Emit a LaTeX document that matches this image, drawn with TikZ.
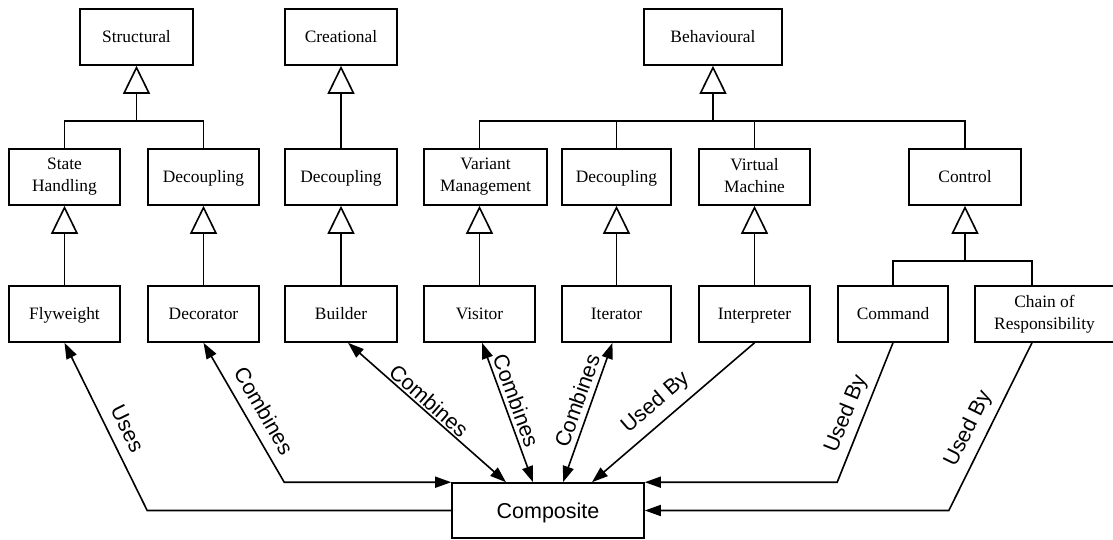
\documentclass[tikz,border=0pt]{standalone}
\usepackage{fontspec}
\setmainfont{Liberation Serif}
\setsansfont{Liberation Sans}
\usetikzlibrary{arrows.meta}
\begin{document}
\begin{tikzpicture}[x=1pt,y=1pt,
  box/.style={draw, line width=1.6pt, inner sep=0pt, minimum height=56pt,
    align=center, font=\fontsize{17.4}{22}\selectfont},
  one/.style={box, text height=11.5pt, text depth=0pt},
  link/.style={line width=1.6pt},
  isa/.style={link, -{Triangle[open, length=28pt, width=27pt]}},
  uni/.style={link, {Triangle[length=16pt, width=11pt]}-},
  bi/.style={link, {Triangle[length=16pt, width=11pt]}-{Triangle[length=16pt, width=11pt]}},
  lbl/.style={sloped, inner sep=0pt, text height=0.75em, text depth=0.25em,
    font=\sffamily\fontsize{21.5}{24}\selectfont}
]
\fill[white] (0,0) rectangle (1113,539);
\useasboundingbox (0,0) rectangle (1113,539);

% categories
\node[one, minimum width=113pt] (Structural) at (136.5,502) {Structural};
\node[one, minimum width=112pt] (Creational) at (341,502) {Creational};
\node[one, minimum width=138pt] (Behavioural) at (713,502) {Behavioural};

% sub-categories
\node[box, minimum width=111pt] (StateH) at (64.5,362) {State\vphantom{g}\\Handling};
\node[one, minimum width=111pt] (DecA) at (203.5,362) {Decoupling};
\node[one, minimum width=112pt] (DecB) at (341,362) {Decoupling};
\node[box, minimum width=123pt] (VarMan) at (485.5,362) {Variant\vphantom{g}\\Management};
\node[one, minimum width=109pt] (DecC) at (616.5,362) {Decoupling};
\node[box, minimum width=111pt] (VirtM) at (754.5,362) {Virtual\vphantom{g}\\Machine\vphantom{g}};
\node[one, minimum width=112pt] (Control) at (965,362) {Control};

% patterns
\node[one, minimum width=111pt] (Flyweight) at (64.5,225) {Flyweight};
\node[one, minimum width=111pt] (Decorator) at (203.5,225) {Decorator};
\node[one, minimum width=112pt] (Builder) at (341,225) {Builder};
\node[one, minimum width=111pt] (Visitor) at (479.5,225) {Visitor};
\node[one, minimum width=109pt] (Iterator) at (616.5,225) {Iterator};
\node[one, minimum width=111pt] (Interpreter) at (754.5,225) {Interpreter};
\node[one, minimum width=110pt] (Command) at (893,225) {Command};
\node[box, minimum width=139pt] (Chain) at (1044.5,225) {Chain of\vphantom{g}\\Responsibility};

\node[box, minimum width=192pt, minimum height=55pt, text height=15.4pt, text depth=0pt,
  font=\sffamily\fontsize{21.5}{24}\selectfont] (Composite) at (548,28.5) {Composite};

% helper levels for the buses
\coordinate (busY) at (0,418);
\coordinate (cbusY) at (0,278);
\coordinate (chainTop) at ([xshift=-12.5pt]Chain.north);
\coordinate (chainBot) at ([xshift=-12.5pt]Chain.south);

% generalisation: structural
\draw[isa] (Structural.south |- busY) -- (Structural.south);
\draw[link] (StateH.north) -- (StateH.north |- busY) -- (DecA.north |- busY) -- (DecA.north);

% generalisation: creational
\draw[isa] (DecB.north) -- (Creational.south);

% generalisation: behavioural
\draw[isa] (Behavioural.south |- busY) -- (Behavioural.south);
\draw[link] (Visitor.north |- VarMan.north) -- (Visitor.north |- busY)
  -- (Control.north |- busY) -- (Control.north);
\draw[link] (DecC.north) -- (DecC.north |- busY);
\draw[link] (VirtM.north) -- (VirtM.north |- busY);

% patterns under their sub-categories
\draw[isa] (Flyweight.north) -- (StateH.south);
\draw[isa] (Decorator.north) -- (DecA.south);
\draw[isa] (Builder.north) -- (DecB.south);
\draw[isa] (Visitor.north) -- (Visitor.north |- VarMan.south);
\draw[isa] (Iterator.north) -- (DecC.south);
\draw[isa] (Interpreter.north) -- (VirtM.south);

% control family
\draw[isa] (Control.south |- cbusY) -- (Control.south);
\draw[link] (Command.north) -- (Command.north |- cbusY) -- (chainTop |- cbusY) -- (chainTop);

% relations to Composite
\coordinate (c1) at (Decorator.south west |- Composite.west);
\coordinate (c2) at (Builder.south west |- Composite.north west);
\coordinate (c7) at (Command.south west |- Composite.north east);
\coordinate (c8) at (Command.south east |- Composite.east);

\draw[uni] (Flyweight.south) -- node[lbl, pos=0.56, above=8pt] (l1) {Uses} (c1) -- (Composite.west);
\draw[bi] (Decorator.south) -- node[lbl, pos=0.553, above=7.4pt] (l2) {Combines} (c2) -- (Composite.north west);
\draw[bi] ([xshift=7pt]Builder.south) -- node[lbl, pos=0.471, above=-1pt] (l3) {Combines} ([xshift=-42pt]Composite.north);
\draw[bi] ([xshift=2.5pt]Visitor.south) -- node[lbl, pos=0.445, above=1.3pt] (l4) {Combines} ([xshift=-15pt]Composite.north);
\draw[bi] ([xshift=15pt]Composite.north) -- node[lbl, pos=0.551, above=3.1pt] (l5) {Combines} ([xshift=-4pt]Iterator.south);
\draw[uni] ([xshift=44pt]Composite.north) -- node[lbl, pos=0.467, above=10pt] (l6) {Used By} (Interpreter.south);
\draw[uni] (Composite.north east) -- (c7) -- node[lbl, pos=0.443, above=8pt] (l7) {Used By} (Command.south);
\draw[uni] (Composite.east) -- (c8) -- node[lbl, pos=0.437, above=9.8pt] (l8) {Used By} (chainBot);
\end{tikzpicture}
\end{document}
